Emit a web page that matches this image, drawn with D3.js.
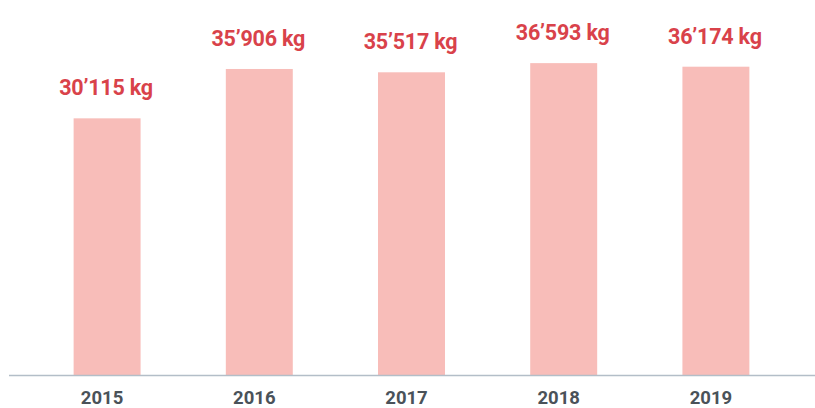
<!DOCTYPE html>
<html>
<head>
<meta charset="utf-8">
<script src="https://cdn.jsdelivr.net/npm/d3@7"></script>
<style>
  body { margin: 0; background: #fff; }
  svg { display: block; }
</style>
</head>
<body>
<svg id="chart"></svg>
<script>
var years = ["2015", "2016", "2017", "2018", "2019"]
var weights = [30115, 35906, 35517, 36593, 36174]
var valueLabels = ["30’115 kg", "35’906 kg", "35’517 kg", "36’593 kg", "36’174 kg"]

var width = 815, height = 408
var baseY = 375

var svg = d3.select("#chart").attr("width", width).attr("height", height)

// band scale: bars ~67px wide, ~152px apart
var x = d3.scaleBand()
    .domain(years)
    .range([31, 792])
    .paddingInner(0.56)
    .paddingOuter(0.28)

var y = d3.scaleLinear()
    .domain([0, 44000])
    .range([baseY, 0])

svg.append("g")
    .selectAll("rect")
    .data(years)
    .enter()
    .append("rect")
    .attr("x", d => x(d))
    .attr("width", x.bandwidth())
    .attr("y", (d, i) => y(weights[i]))
    .attr("height", (d, i) => baseY - y(weights[i]))
    .attr("fill", "#f8bdb9")

// value labels
svg.append("g")
    .selectAll("text")
    .data(years)
    .enter()
    .append("text")
    .attr("x", d => x(d) + x.bandwidth() / 2 - 1)
    .attr("y", (d, i) => y(weights[i]) - 23)
    .attr("text-anchor", "middle")
    .style("font-family", "Roboto, sans-serif")
    .style("font-weight", 700)
    .style("font-size", "21.5px")
    .style("letter-spacing", "-0.2px")
    .style("fill", "#d9424a")
    .text((d, i) => valueLabels[i])

// axis
var xAxis = d3.axisBottom(x).tickSize(0).tickPadding(15.5)
var ax = svg.append("g")
    .attr("transform", "translate(0," + baseY + ")")
    .call(xAxis)
ax.select(".domain").remove()
ax.append("line")
    .attr("x1", 9).attr("x2", width)
    .attr("y1", 0.5).attr("y2", 0.5)
    .attr("stroke", "#b3bec8")
    .attr("stroke-width", 1.6)
ax.selectAll(".tick text")
    .attr("x", -5)
    .style("font-family", "Roboto, sans-serif")
    .style("font-weight", 700)
    .style("font-size", "18.5px")
    .style("fill", "#4a5259")
</script>
</body>
</html>
